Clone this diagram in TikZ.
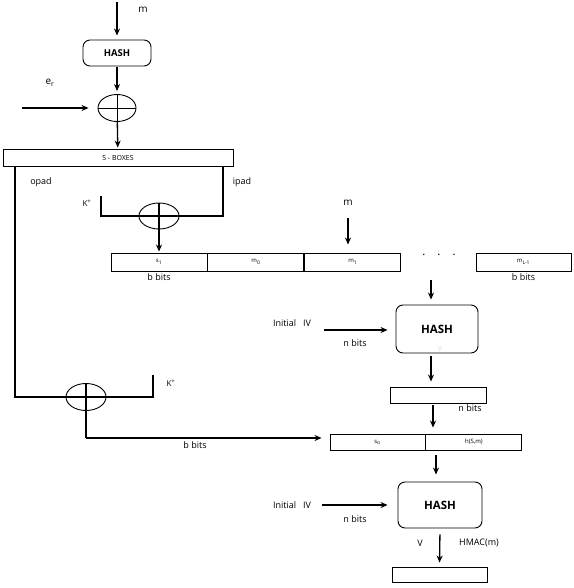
\documentclass[tikz,border=0pt]{standalone}
\usepackage{fontspec}
\setmainfont{Open Sans}
\usetikzlibrary{arrows.meta, positioning, shapes.geometric}

\begin{document}
\begin{tikzpicture}[
    x=1pt, y=-1pt,
    line width=1.1pt,
    hashbox/.style={
        draw, rounded corners=7pt, line width=0.9pt,
        font=\bfseries, inner sep=0pt
    },
    blk/.style={
        draw, rectangle, line width=0.9pt, minimum height=18pt,
        minimum width=96pt, inner sep=0pt, font=\fontsize{6}{7}\selectfont
    },
    xor/.style={
        ellipse, draw, line width=0.9pt, minimum width=38pt,
        minimum height=27pt, inner sep=0pt
    },
    lbl/.style={font=\fontsize{9}{10}\selectfont, inner sep=1pt},
    arr/.style={-{Stealth[length=7pt,width=6pt]}, line width=1.3pt},
]
\useasboundingbox (0,0) rectangle (573,588);

% Top: hash of m, xor with e_r, S-boxes
\coordinate (mtop) at (117,2);
\node[lbl, font=\fontsize{10}{11}\selectfont] (mlbl) at (143,10) {m};
\node[hashbox, minimum width=68pt, minimum height=26pt, font=\bfseries\fontsize{9.5}{10}\selectfont] (hash1) at (117,53) {HASH};
\draw[arr, shorten >=4pt] (mtop) -- (hash1.north);

\node[xor] (xor1) at (117,108) {};
\draw[line width=0.9pt] (xor1.north) -- (xor1.south) (xor1.west) -- (xor1.east);
\draw[arr, shorten <=1pt, shorten >=3pt] (hash1) -- (xor1);

\node[lbl, font=\fontsize{10}{11}\selectfont] (er) at (50,83) {e\textsubscript{r}};
\coordinate (erin) at (22,108);
\draw[arr, shorten >=9pt] (erin) -- (xor1.west);

\node[blk, minimum width=230pt, minimum height=17pt, font=\fontsize{7}{8}\selectfont] (sbox) at (118,157.5) {S - BOXES};
\draw[arr, shorten >=1pt] (xor1) -- (sbox);

\node[lbl] (opad) at (41,182) {opad};
\node[lbl] (ipad) at (242,182) {ipad};

% ipad branch: K+ xor into s_1
\coordinate (ipadtop) at (223,166);
\coordinate (ipadbot) at (223,216);
\coordinate (kin1) at (101,216);
\coordinate (kend1) at (101,196);
\node[lbl, font=\fontsize{8}{9}\selectfont] (kplus1) at (87,203) {K\textsuperscript{+}};
\node[xor, minimum width=40pt, minimum height=26pt] (xor2) at (159,216) {};
\draw (ipadtop) -- (ipadbot) -- (kin1) -- (kend1);

% Message blocks
\node[blk] (s1) at (159,262) {s\textsubscript{1}};
\node[blk, right=0pt of s1] (m0) {m\textsubscript{0}};
\node[blk, right=0pt of m0] (m1) {m\textsubscript{1}};
\node[blk, minimum width=95pt] (mL) at (523.5,262) {m\textsubscript{L-1}};
\node[font=\fontsize{14}{14}\selectfont] (dots) at (439,255) {$\cdot\;\;\cdot\;\;\cdot$};
\node[lbl, below=1pt of s1] (bbits1) {b bits};
\node[lbl, below=1pt of mL] (bbits2) {b bits};
\draw[arr, shorten >=1pt] (xor2.north) -- (s1.north);

\node[lbl, font=\fontsize{10}{11}\selectfont] (m2lbl) at (348,203) {m};
\coordinate (m2top) at (348,218);
\draw[arr, shorten >=8pt] (m2top) -- (m2top |- m1.north);

% Inner hash
\node[hashbox, minimum width=82pt, minimum height=48pt, font=\bfseries\fontsize{11.5}{12}\selectfont] (hash2) at (437,329) {HASH};
\node[lbl, text=black!15, font=\fontsize{7}{8}\selectfont] (v1) at (440,349) {V};
\coordinate (dotsout) at (431,280);
\draw[arr, shorten >=5pt] (dotsout) -- (dotsout |- hash2.north);
\node[lbl] (iv1) at (292,323) {Initial \ \ IV};
\coordinate (iv1in) at (324,330);
\draw[arr, shorten >=8pt] (iv1in) -- (iv1in -| hash2.west);
\node[lbl] (nbits1) at (355,343) {n bits};

\node[blk, minimum height=16pt, minimum width=96pt] (inner) at (438,395) {};
\draw[arr, shorten <=3pt, shorten >=5pt] (hash2.south -| dotsout) -- (inner.north -| dotsout);
\node[lbl] (nbits2) at (470,408) {n bits};

% opad branch: K+ xor into s_o
\coordinate (opadtop) at (15,166);
\coordinate (opadbot) at (15,397);
\coordinate (kend2) at (153,397);
\node[lbl, font=\fontsize{8}{9}\selectfont] (kplus2) at (171,383) {K\textsuperscript{+}};
\node[xor, minimum width=40pt, minimum height=27pt] (xor3) at (86,397) {};
\draw (opadtop) -- (opadbot) -- (kend2) -- ++(0,-22);
\coordinate (xor3out) at (86,438);
\draw (xor3.north) -- (xor3out);

% Outer blocks
\node[blk, minimum height=16pt, minimum width=95pt] (so) at (377.5,442) {s\textsubscript{o}};
\node[blk, minimum height=16pt, right=0pt of so] (hsm) {h(S,m)};
\draw[arr, shorten >=8pt] (xor3out) -- (xor3out -| so.west);
\node[lbl] (bbits3) at (195,445) {b bits};
\coordinate (innerout) at (433,405);
\draw[arr, shorten >=6pt] (innerout) -- (innerout |- so.north);

% Outer hash
\node[hashbox, minimum width=84pt, minimum height=46pt, font=\bfseries\fontsize{11.5}{12}\selectfont] (hash3) at (440,505) {HASH};
\coordinate (soout) at (436,452);
\draw[arr, shorten <=3pt, shorten >=7pt] (soout) -- (soout |- hash3.north);
\node[lbl] (iv2) at (292,505) {Initial \ \ IV};
\coordinate (iv2in) at (322,505);
\draw[arr, shorten >=10pt] (iv2in) -- (iv2in -| hash3.west);
\node[lbl] (nbits3) at (355,519) {n bits};

\node[blk, minimum height=15pt, minimum width=95pt] (out) at (439.5,574.5) {};
\node[lbl] (v2) at (420,543) {V};
\node[lbl] (hmac) at (479,543) {HMAC(m)};
\draw[arr, shorten <=6pt, shorten >=4pt] (hash3.south) -- (out.north);

\end{tikzpicture}
\end{document}
